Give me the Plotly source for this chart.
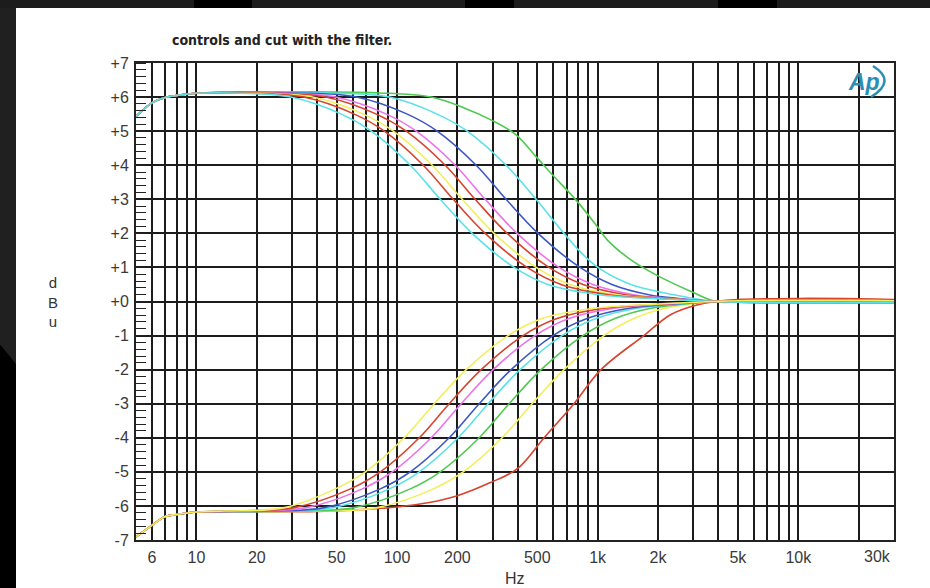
import math
import plotly.graph_objects as go

# ---------------- data ----------------
LF_HZ = [5, 6, 7, 8, 10]
BOOST_LF_DB = [5.43, 5.83, 5.99, 6.05, 6.11]
CUT_LF_DB = [-6.91, -6.57, -6.31, -6.25, -6.18]

HF_HZ = [5000, 10000, 20000, 30000]
BOOST_HF_DB = [-0.02, -0.03, -0.03, -0.03]
CUT_HF_DB = [0.02, 0.03, 0.03, 0.02]
CUT_RED_B_HF_DB = [0.06, 0.09, 0.08, 0.06]

BOOST_LEVELS_DB = [6.12, 6.0, 5.5, 5.0, 4.0, 3.0, 2.0, 1.0, 0.5, 0.2, 0.08, 0.0]
BOOST_CYAN_A_HZ = [14.9, 29.5, 52.8, 74.5, 116.5, 164.2, 236.9, 383.4, 565.7, 1015, 2018, 3865]
BOOST_RED_A_HZ = [17.2, 34.2, 61.3, 86.5, 135.1, 190.6, 275.0, 444.9, 656.9, 1138, 2137, 3865]
BOOST_YELLOW_HZ = [19.1, 37.9, 68.0, 95.9, 149.8, 211.3, 304.8, 493.2, 728.4, 1233, 2212, 3865]
BOOST_RED_B_HZ = [22.1, 44.0, 78.9, 111.2, 173.9, 245.2, 353.8, 572.3, 845.3, 1383, 2316, 3865]
BOOST_MAGENTA_HZ = [24.8, 49.3, 88.5, 124.7, 195.0, 275.0, 396.7, 642.1, 947.6, 1515, 2424, 3865]
BOOST_BLUE_HZ = [31.6, 62.7, 112.5, 158.6, 248.0, 349.8, 504.7, 816.6, 1178, 1799, 2627, 3865]

BOOST_CYAN_B_DB = [6.12, 6.0, 5.5, 5.0, 4.0, 3.0, 2.0, 1.5, 1.0, 0.5, 0.2, 0.0]
BOOST_CYAN_B_HZ = [46.0, 91.6, 158.6, 223.8, 349.8, 493.2, 679.9, 807, 1003, 1464, 2400, 3865]
BOOST_GREEN_DB = [6.12, 6.0, 5.68, 5.33, 4.9, 4.26, 3.72, 2.99, 2.20, 1.81, 1.23, 0.79, 0.30, 0.0]
BOOST_GREEN_HZ = [81.6, 148.1, 216.2, 293.7, 390.8, 491.5, 594.6, 777.1, 995.5, 1116, 1459, 1944,
                  2902, 3865]

CUT_LEVELS_DB = [-6.15, -6.05, -5.5, -5.0, -4.0, -3.0, -2.0, -1.0, -0.5, -0.2, -0.08, 0.0]
CUT_YELLOW_A_HZ = [13.9, 27.5, 49.3, 69.6, 108.7, 153.3, 221.2, 357.9, 528.4, 958.8, 1906, 3865]
CUT_RED_A_HZ = [16.4, 30.8, 58.6, 82.6, 129.1, 182.0, 262.7, 425.0, 627.5, 1075, 2018, 3865]
CUT_MAGENTA_HZ = [18.8, 35.4, 67.2, 94.8, 148.1, 208.9, 301.3, 487.6, 719.9, 1205, 2137, 3865]
CUT_BLUE_HZ = [23.2, 43.5, 82.6, 116.5, 182.0, 256.8, 370.4, 599.2, 884.9, 1431, 2316, 3865]
CUT_CYAN_HZ = [25.7, 48.2, 91.6, 129.1, 201.8, 284.6, 410.7, 664.5, 980.6, 1569, 2424, 3865]
CUT_GREEN_HZ = [32.7, 61.3, 116.5, 164.2, 256.8, 362.0, 522.4, 845.3, 1219, 1842, 2658, 3865]
CUT_YELLOW_B_HZ = [42.5, 79.8, 151.6, 213.8, 334.1, 471.1, 679.9, 1075, 1515, 2162, 2847, 3865]
CUT_RED_B_HZ = [20, 40, 70, 100, 145, 200, 288, 400, 541, 762, 1039, 1699, 2316, 3119, 3865]
CUT_RED_B_DB = [-6.17, -6.16, -6.10, -6.03, -5.90, -5.70, -5.33, -4.90, -4.0, -3.0, -2.0,
                -1.0, -0.38, -0.1, 0.0]

X_TICK_HZ = [6, 10, 20, 50, 100, 200, 500, 1000, 2000, 5000, 10000]
X_TICK_TEXT = ["6", "10", "20", "50", "100", "200", "500", "1k", "2k", "5k", "10k"]
X_MINOR_GRID_HZ = [7, 8, 9, 30, 40, 60, 70, 80, 90, 300, 400, 600, 700, 800, 900,
                   3000, 4000, 6000, 7000, 8000, 9000, 20000]
Y_TICK_DB = list(range(-7, 8))
Y_TICK_TEXT = [("+%d" % v) if v >= 0 else str(v) for v in Y_TICK_DB]

# ---------------- style ----------------
CYAN = "#5ae2e6"
RED = "#d8432e"
YELLOW = "#f3ee5c"
MAGENTA = "#ee72e8"
BLUE = "#3b57c6"
GREEN = "#4fc94f"
GRID = "#1c1c1c"
LOGO = "#2a8db5"

W, H = 930, 588
L, R, T, B = 136, 36, 63, 48
PW, PH = W - L - R, H - T - B


def px(X):
    return (X - L) / PW


def py(Y):
    return (H - B - Y) / PH


fig = go.Figure()

boost = [
    (BOOST_CYAN_A_HZ, BOOST_LEVELS_DB, CYAN), (BOOST_RED_A_HZ, BOOST_LEVELS_DB, RED),
    (BOOST_YELLOW_HZ, BOOST_LEVELS_DB, YELLOW), (BOOST_RED_B_HZ, BOOST_LEVELS_DB, RED),
    (BOOST_MAGENTA_HZ, BOOST_LEVELS_DB, MAGENTA), (BOOST_BLUE_HZ, BOOST_LEVELS_DB, BLUE),
    (BOOST_CYAN_B_HZ, BOOST_CYAN_B_DB, CYAN), (BOOST_GREEN_HZ, BOOST_GREEN_DB, GREEN),
]
cut = [
    (CUT_YELLOW_A_HZ, CUT_LEVELS_DB, CUT_HF_DB, YELLOW),
    (CUT_RED_A_HZ, CUT_LEVELS_DB, CUT_HF_DB, RED),
    (CUT_MAGENTA_HZ, CUT_LEVELS_DB, CUT_HF_DB, MAGENTA),
    (CUT_BLUE_HZ, CUT_LEVELS_DB, CUT_HF_DB, BLUE),
    (CUT_CYAN_HZ, CUT_LEVELS_DB, CUT_HF_DB, CYAN),
    (CUT_GREEN_HZ, CUT_LEVELS_DB, CUT_HF_DB, GREEN),
    (CUT_YELLOW_B_HZ, CUT_LEVELS_DB, CUT_HF_DB, YELLOW),
    (CUT_RED_B_HZ, CUT_RED_B_DB, CUT_RED_B_HF_DB, RED),
]

line_kw = dict(width=1.6, shape="spline", smoothing=1.0)

for hz, db, col in reversed(boost):
    fig.add_trace(go.Scatter(
        x=LF_HZ + hz + HF_HZ, y=BOOST_LF_DB + db + BOOST_HF_DB,
        mode="lines", line=dict(color=col, **line_kw), hoverinfo="skip"))

for hz, db, hf, col in reversed(cut):
    fig.add_trace(go.Scatter(
        x=LF_HZ + hz + HF_HZ, y=CUT_LF_DB + db + hf,
        mode="lines", line=dict(color=col, **line_kw), hoverinfo="skip"))

tick_font = dict(family="Liberation Sans, Arial, sans-serif", size=16, color="#3a3a3a")

fig.update_xaxes(
    type="log", range=[math.log10(5), math.log10(30000)],
    tickmode="array", tickvals=X_TICK_HZ, ticktext=X_TICK_TEXT,
    ticks="", showgrid=True, gridcolor=GRID, gridwidth=1.6,
    minor=dict(tickmode="array", tickvals=X_MINOR_GRID_HZ, showgrid=True,
               gridcolor=GRID, gridwidth=1.6, ticks=""),
    showline=True, mirror=True, linecolor="#222", linewidth=2,
    tickfont=tick_font, ticklabelstandoff=2, zeroline=False,
)
fig.update_yaxes(
    range=[-7, 7], tickmode="array", tickvals=Y_TICK_DB, ticktext=Y_TICK_TEXT,
    ticks="", showgrid=True, gridcolor=GRID, gridwidth=1.6,
    minor=dict(dtick=0.2, tick0=0, ticks="inside", ticklen=10, tickwidth=1,
               tickcolor="#222", showgrid=False),
    showline=True, mirror=True, linecolor="#222", linewidth=2,
    tickfont=tick_font, ticklabelstandoff=2, zeroline=False,
)

annotations = [
    dict(text="<b>controls and cut with the filter.</b>", xref="paper", yref="paper",
         x=px(282), y=py(40), xanchor="center", yanchor="middle", showarrow=False,
         font=dict(family="DejaVu Sans Condensed, Liberation Sans Narrow, Liberation Sans, sans-serif",
                   size=14, color="#222")),
    dict(text="d<br>B<br>u", xref="paper", yref="paper", x=px(53), y=py(302),
         xanchor="center", yanchor="middle", showarrow=False,
         font=dict(family="Liberation Sans, Arial, sans-serif", size=15, color="#333")),
    dict(text="Hz", xref="paper", yref="paper", x=0.5, y=py(578),
         xanchor="center", yanchor="middle", showarrow=False,
         font=dict(family="Liberation Sans, Arial, sans-serif", size=16, color="#333")),
    dict(text="30k", xref="paper", yref="paper", x=px(877), y=py(556),
         xanchor="center", yanchor="middle", showarrow=False, font=tick_font),
    dict(text="<b><i>Ap</i></b>", xref="paper", yref="paper", x=px(864), y=py(82),
         xanchor="center", yanchor="middle", showarrow=False,
         font=dict(family="Liberation Sans, Arial, sans-serif", size=23, color=LOGO)),
]

shapes = [
    # dark screenshot frame
    dict(type="rect", xref="paper", yref="paper", x0=px(-5), x1=px(W + 5), y0=py(8), y1=py(-5),
         fillcolor="#1c1c1c", line=dict(width=0), layer="above"),
    dict(type="rect", xref="paper", yref="paper", x0=px(194), x1=px(252), y0=py(8), y1=py(-5),
         fillcolor="#000", line=dict(width=0), layer="above"),
    dict(type="rect", xref="paper", yref="paper", x0=px(465), x1=px(514), y0=py(8), y1=py(-5),
         fillcolor="#000", line=dict(width=0), layer="above"),
    dict(type="rect", xref="paper", yref="paper", x0=px(718), x1=px(777), y0=py(8), y1=py(-5),
         fillcolor="#000", line=dict(width=0), layer="above"),
    dict(type="rect", xref="paper", yref="paper", x0=px(-5), x1=px(16), y0=py(H + 5), y1=py(8),
         fillcolor="#202020", line=dict(width=0), layer="above"),
    dict(type="path", xref="paper", yref="paper",
         path="M %f,%f L %f,%f L %f,%f L %f,%f Z" % (px(-5), py(338), px(16), py(364),
                                                   px(16), py(H + 5), px(-5), py(H + 5)),
         fillcolor="#000", line=dict(width=0), layer="above"),
    # Ap logo swoosh
    dict(type="path", xref="paper", yref="paper",
         path="M %f,%f Q %f,%f %f,%f" % (px(873), py(66), px(897), py(81), px(871), py(97)),
         line=dict(color=LOGO, width=2.6), layer="above"),
]

fig.update_layout(
    width=W, height=H, margin=dict(l=L, r=R, t=T, b=B, pad=0),
    paper_bgcolor="white", plot_bgcolor="white", showlegend=False,
    annotations=annotations, shapes=shapes,
)

fig.write_html("out.html", config={"displayModeBar": False},
               post_script="document.body.style.margin='0';document.body.style.overflow='hidden';")
